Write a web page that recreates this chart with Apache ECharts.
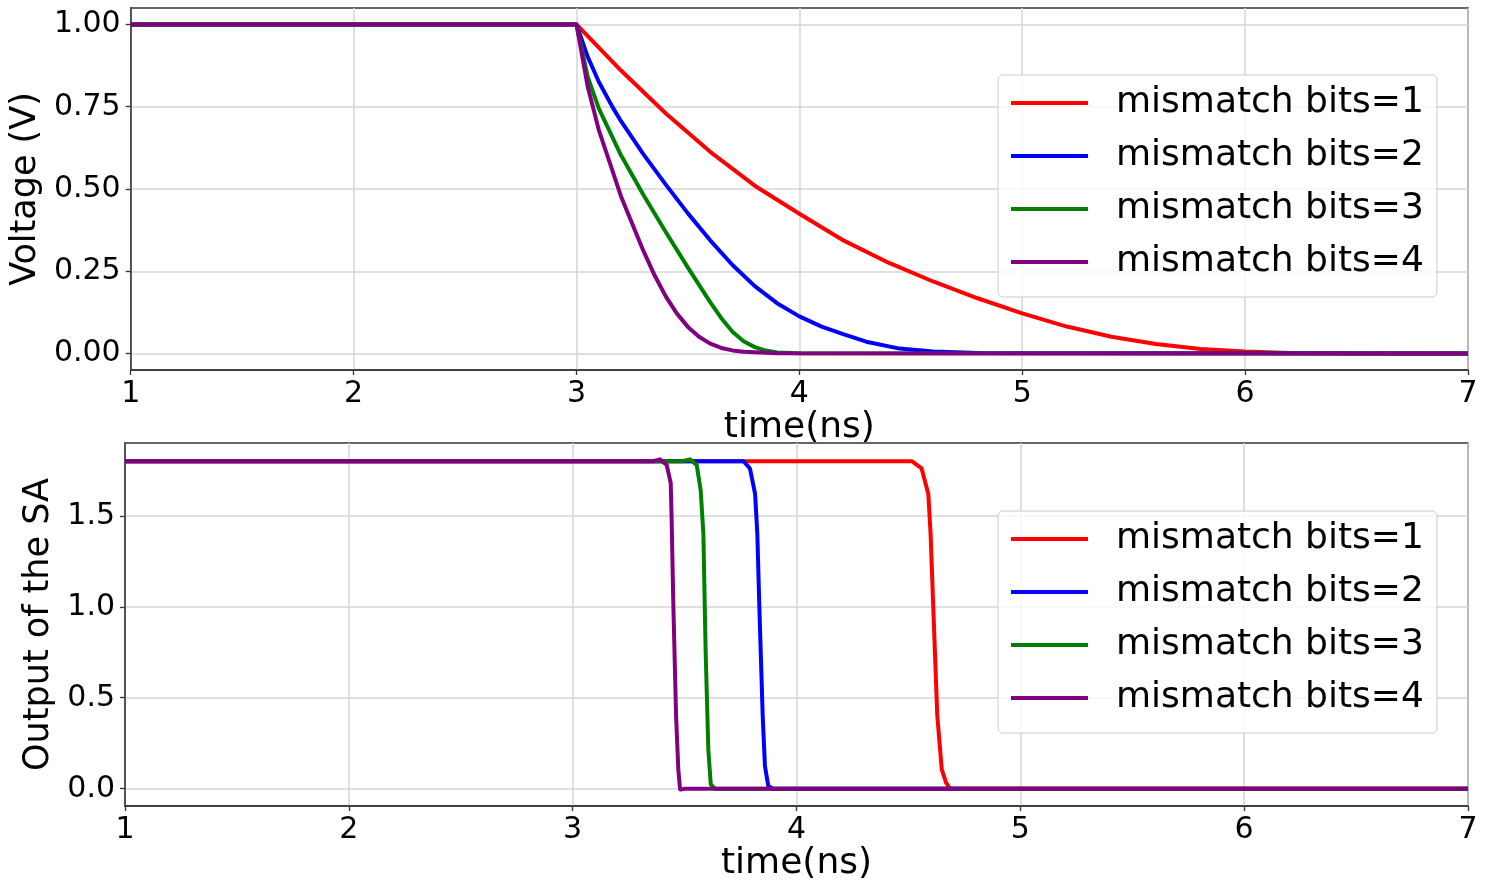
<!DOCTYPE html>
<html>
<head>
<meta charset="utf-8">
<script src="https://cdn.jsdelivr.net/npm/echarts@6/dist/echarts.min.js"></script>
<style>
  html, body { margin: 0; padding: 0; background: #fff; }
  #chart { width: 1486px; height: 887px; }
</style>
</head>
<body>
<div id="chart"></div>
<script>
  // legend / series names and colours
  const legendNames = ['mismatch bits=1', 'mismatch bits=2', 'mismatch bits=3', 'mismatch bits=4']
  const colors = ['#ff0000', '#0000ff', '#008000', '#800080']

  // tick labels
  const xTicks = [1, 2, 3, 4, 5, 6, 7]
  const yTicksTop = [0, 0.25, 0.5, 0.75, 1.0]
  const yTicksBottom = [0, 0.5, 1.0, 1.5]

  // top panel: voltage (V) vs time (ns)
  const timeTop1 = [1, 3, 3.2, 3.4, 3.6, 3.8, 4.0, 4.2, 4.4, 4.6, 4.8, 5.0, 5.2, 5.4, 5.6, 5.8, 6.0, 6.2, 6.5, 7]
  const voltTop1 = [1, 1, 0.86, 0.73, 0.613, 0.51, 0.425, 0.343, 0.276, 0.219, 0.168, 0.122, 0.082, 0.051, 0.029, 0.014, 0.006, 0.002, 0.0005, 0]
  const timeTop2 = [1, 3, 3.05, 3.1, 3.16, 3.2, 3.3, 3.4, 3.5, 3.6, 3.7, 3.8, 3.9, 4.0, 4.1, 4.2, 4.3, 4.45, 4.6, 4.8, 7]
  const voltTop2 = [1, 1, 0.9025, 0.826, 0.751, 0.706, 0.606, 0.514, 0.426, 0.344, 0.269, 0.205, 0.153, 0.113, 0.082, 0.058, 0.036, 0.015, 0.006, 0.002, 0]
  const timeTop3 = [1, 3, 3.05, 3.1, 3.2, 3.3, 3.4, 3.5, 3.6, 3.65, 3.7, 3.75, 3.8, 3.85, 3.9, 4.0, 7]
  const voltTop3 = [1, 1, 0.8425, 0.745, 0.6025, 0.4825, 0.37, 0.261, 0.156, 0.1075, 0.0665, 0.0375, 0.0195, 0.009, 0.0032, 0.001, 0]
  const timeTop4 = [1, 3, 3.05, 3.1, 3.2, 3.3, 3.35, 3.4, 3.45, 3.5, 3.55, 3.6, 3.65, 3.7, 3.75, 3.8, 3.9, 7]
  const voltTop4 = [1, 1, 0.8125, 0.68, 0.4775, 0.3125, 0.2385, 0.1745, 0.122, 0.081, 0.051, 0.03, 0.017, 0.0095, 0.0057, 0.004, 0.001, 0]

  // bottom panel: output of the SA vs time (ns)
  const timeBot1 = [1, 4.515, 4.559, 4.589, 4.599, 4.611, 4.629, 4.649, 4.668, 4.686, 7]
  const outBot1 = [1.8, 1.8, 1.76, 1.62, 1.4, 1.0, 0.4, 0.106, 0.033, 0, 0]
  const timeBot2 = [1, 3.763, 3.792, 3.815, 3.825, 3.834, 3.849, 3.859, 3.874, 3.896, 7]
  const outBot2 = [1.8, 1.8, 1.76, 1.62, 1.4, 1.0, 0.4, 0.124, 0.015, 0, 0]
  const timeBot3 = [1, 3.49, 3.524, 3.554, 3.572, 3.584, 3.594, 3.606, 3.617, 3.636, 7]
  const outBot3 = [1.8, 1.8, 1.81, 1.78, 1.64, 1.4, 0.76, 0.216, 0.024, 0, 0]
  const timeBot4 = [1, 3.36, 3.39, 3.42, 3.438, 3.442, 3.45, 3.462, 3.472, 3.48, 3.502, 7]
  const outBot4 = [1.8, 1.8, 1.81, 1.78, 1.68, 1.49, 1.0, 0.4, 0.106, -0.004, 0, 0]

  const topTimes = [timeTop1, timeTop2, timeTop3, timeTop4]
  const topVals = [voltTop1, voltTop2, voltTop3, voltTop4]
  const botTimes = [timeBot1, timeBot2, timeBot3, timeBot4]
  const botVals = [outBot1, outBot2, outBot3, outBot4]

  const font = 'DejaVu Sans'
  const frame = '#333'
  const gridColor = '#d4d4d4'

  let myChart = echarts.init(document.getElementById('chart'), null, { renderer: 'canvas' })

  function xAxisFor (gridIndex) {
    return {
      type: 'value',
      gridIndex: gridIndex,
      min: xTicks[0],
      max: xTicks[xTicks.length - 1],
      interval: 1,
      name: 'time(ns)',
      nameLocation: 'middle',
      nameGap: 37,
      nameTextStyle: { fontSize: 36, color: '#000', fontFamily: font },
      axisLine: { show: true, onZero: false, lineStyle: { color: frame, width: 1.5 } },
      axisTick: { show: true, length: 5, lineStyle: { color: frame, width: 1.3 } },
      axisLabel: { fontSize: 30, color: '#000', fontFamily: font, margin: 9 },
      splitLine: { show: true, lineStyle: { color: gridColor, width: 1.5 } }
    }
  }

  function yAxisFor (gridIndex, name, ticks, min, max, digits, nameGap) {
    return {
      type: 'value',
      gridIndex: gridIndex,
      min: min,
      max: max,
      name: name,
      nameLocation: 'middle',
      nameGap: nameGap,
      nameTextStyle: { fontSize: 35, color: '#000', fontFamily: font },
      axisLine: { show: true, onZero: false, lineStyle: { color: frame, width: 1.5 } },
      axisTick: { show: true, length: 5, customValues: ticks, lineStyle: { color: frame, width: 1.3 } },
      axisLabel: {
        fontSize: 30, color: '#000', fontFamily: font, margin: 10,
        customValues: ticks,
        formatter: v => v.toFixed(digits)
      },
      splitLine: { show: true, lineStyle: { color: gridColor, width: 1.5 } }
    }
  }

  function legendFor (top) {
    return {
      data: legendNames,
      orient: 'vertical',
      left: 998,
      top: top,
      icon: 'rect',
      itemWidth: 77,
      itemHeight: 4,
      itemGap: 17,
      selectedMode: false,
      padding: [10, 13, 17, 13],
      backgroundColor: 'rgba(255,255,255,0.8)',
      borderColor: '#cccccc',
      borderWidth: 1,
      borderRadius: 5,
      textStyle: { fontSize: 36, lineHeight: 36, color: '#000', fontFamily: font, padding: [0, 0, 0, 23] }
    }
  }

  let series = []
  legendNames.forEach((item, index) => {
    series.push({
      name: item,
      type: 'line',
      xAxisIndex: 0,
      yAxisIndex: 0,
      showSymbol: false,
      smooth: false,
      lineStyle: { color: colors[index], width: 4, join: 'round' },
      itemStyle: { color: colors[index] },
      data: topTimes[index].map((t, i) => [t, topVals[index][i]])
    })
  })
  legendNames.forEach((item, index) => {
    series.push({
      name: item,
      type: 'line',
      xAxisIndex: 1,
      yAxisIndex: 1,
      showSymbol: false,
      smooth: false,
      lineStyle: { color: colors[index], width: 4, join: 'round' },
      itemStyle: { color: colors[index] },
      data: botTimes[index].map((t, i) => [t, botVals[index][i]])
    })
  })

  let option = {
    animation: false,
    backgroundColor: '#fff',
    textStyle: { fontFamily: font },
    grid: [
      { left: 125, right: 18, top: 8, height: 362, show: true, borderColor: frame, borderWidth: 1.5, backgroundColor: 'transparent' },
      { left: 125, right: 18, top: 443, height: 363, show: true, borderColor: frame, borderWidth: 1.5, backgroundColor: 'transparent' }
    ],
    xAxis: [xAxisFor(0), xAxisFor(1)],
    yAxis: [
      yAxisFor(0, 'Voltage (V)', yTicksTop, -0.05, 1.05, 2, 84),
      yAxisFor(1, 'Output of the SA', yTicksBottom, -0.095, 1.9, 1, 68)
    ],
    legend: [legendFor(75), legendFor(511)],
    series: series
  }
  myChart.setOption(option)
</script>
</body>
</html>
